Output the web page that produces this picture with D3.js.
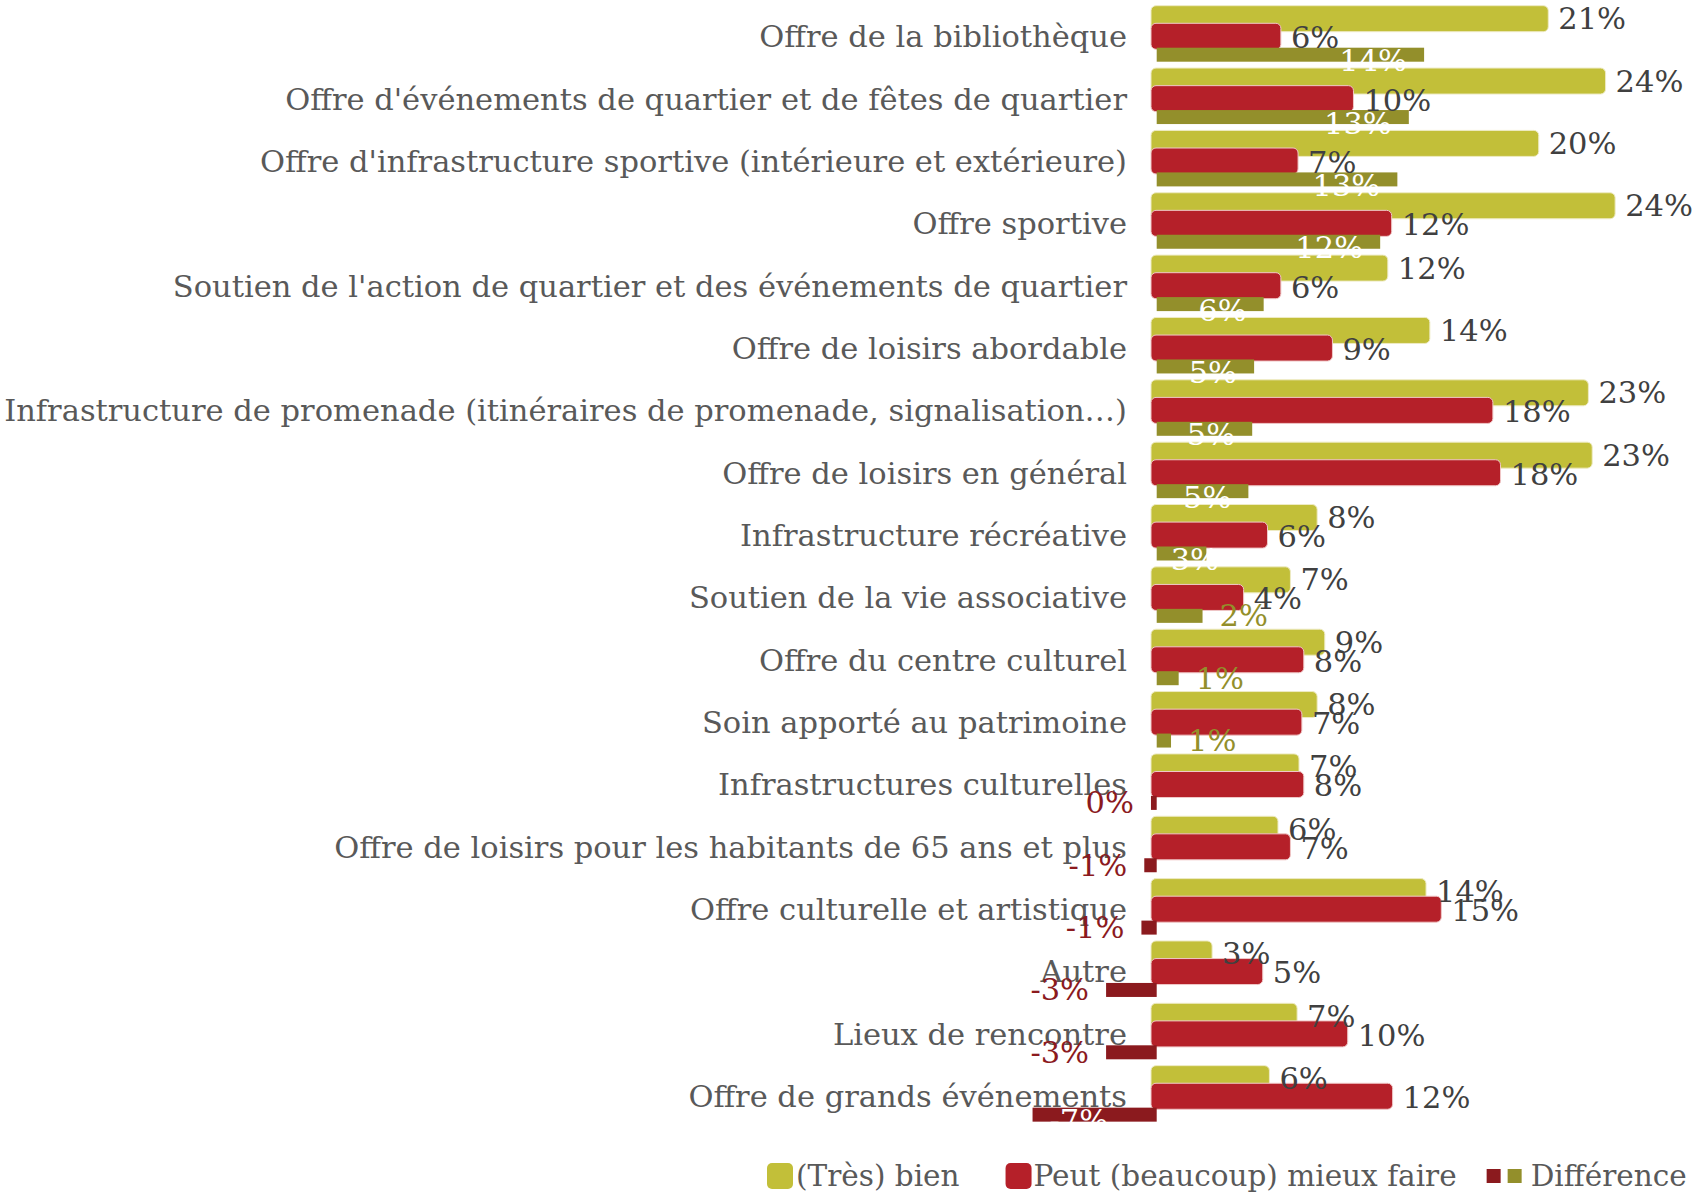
<!DOCTYPE html>
<html>
<head>
<meta charset="utf-8">
<script src="https://cdn.jsdelivr.net/npm/d3@7"></script>
<style>
  body { margin: 0; background: #fff; }
  svg { display: block; font-family: "DejaVu Serif", serif; }
</style>
</head>
<body>
<div id="chart"></div>
<script>
const categories = [
  'Offre de la bibliothèque',
  "Offre d'événements de quartier et de fêtes de quartier",
  "Offre d'infrastructure sportive (intérieure et extérieure)",
  'Offre sportive',
  "Soutien de l'action de quartier et des événements de quartier",
  'Offre de loisirs abordable',
  'Infrastructure de promenade (itinéraires de promenade, signalisation…)',
  'Offre de loisirs en général',
  'Infrastructure récréative',
  'Soutien de la vie associative',
  'Offre du centre culturel',
  'Soin apporté au patrimoine',
  'Infrastructures culturelles',
  'Offre de loisirs pour les habitants de 65 ans et plus',
  'Offre culturelle et artistique',
  'Autre',
  'Lieux de rencontre',
  'Offre de grands événements'
]

// (Très) bien
const bien = [20.8, 23.8, 20.3, 24.3, 12.4, 14.6, 22.9, 23.1, 8.7, 7.3, 9.1, 8.7, 7.75, 6.65, 14.4, 3.2, 7.65, 6.2]
const bienLabels = [21, 24, 20, 24, 12, 14, 23, 23, 8, 7, 9, 8, 7, 6, 14, 3, 7, 6]
// Peut (beaucoup) mieux faire
const mieux = [6.8, 10.6, 7.7, 12.6, 6.8, 9.5, 17.9, 18.3, 6.1, 4.85, 8.0, 7.9, 8.0, 7.3, 15.2, 5.85, 10.3, 12.65]
const mieuxLabels = [6, 10, 7, 12, 6, 9, 18, 18, 6, 4, 8, 7, 8, 7, 15, 5, 10, 12]
// Différence
const diff = [14.0, 13.2, 12.6, 11.7, 5.6, 5.1, 5.0, 4.8, 2.6, 2.4, 1.15, 0.75, -0.3, -0.65, -0.8, -2.65, -2.65, -6.5]
const diffLabels = [14, 13, 13, 12, 6, 5, 5, 5, 3, 2, 1, 1, 0, -1, -1, -3, -3, -7]

const seriesNames = ['(Très) bien', 'Peut (beaucoup) mieux faire', 'Différence']

const width = 1703
const height = 1196
const fontSize = 30.5

const cYellow = '#c2bf39'
const cRed = '#b52029'
const cDiffPos = '#938f2b'
const cDiffNeg = '#8b1a1e'

const svg = d3.select('#chart')
  .append('svg')
  .attr('width', width)
  .attr('height', height)

const x = d3.scaleLinear().domain([0, 25]).range([1151, 1151 + 25 * 19.1])
// the difference series sits on its own axis, slightly shifted
const xd = d3.scaleLinear().domain([0, 25]).range([1156.7, 1156.7 + 25 * 19.1])

const y = d3.scaleBand()
  .domain(categories)
  .range([5.7, 5.7 + categories.length * 62.35])

const rows = categories.map((c, i) => ({
  name: c, bien: bien[i], mieux: mieux[i], diff: diff[i],
  bl: bienLabels[i], ml: mieuxLabels[i], dl: diffLabels[i]
}))

// category labels
svg.append('g')
  .selectAll('text')
  .data(rows)
  .join('text')
  .attr('x', 1127)
  .attr('y', d => y(d.name) + 31)
  .attr('text-anchor', 'end')
  .attr('dominant-baseline', 'central')
  .attr('fill', '#595959')
  .attr('font-size', fontSize)
  .text(d => d.name)

// bars
svg.append('g')
  .selectAll('rect')
  .data(rows)
  .join('rect')
  .attr('x', x(0))
  .attr('y', d => y(d.name))
  .attr('width', d => x(d.bien) - x(0))
  .attr('height', 26)
  .attr('rx', 5)
  .attr('fill', cYellow)
  .attr('stroke', '#eeebc4')
  .attr('stroke-width', 1)

svg.append('g')
  .selectAll('rect')
  .data(rows)
  .join('rect')
  .attr('x', x(0))
  .attr('y', d => y(d.name) + 17.6)
  .attr('width', d => x(d.mieux) - x(0))
  .attr('height', 26)
  .attr('rx', 5)
  .attr('fill', cRed)
  .attr('stroke', '#f0c8c8')
  .attr('stroke-width', 1)

svg.append('g')
  .selectAll('rect')
  .data(rows)
  .join('rect')
  .attr('x', d => Math.min(xd(0), xd(d.diff)))
  .attr('y', d => y(d.name) + 42)
  .attr('width', d => Math.abs(xd(d.diff) - xd(0)))
  .attr('height', 14)
  .attr('fill', d => d.diff >= 0 ? cDiffPos : cDiffNeg)

// difference labels: inside in white for long bars, outside otherwise
const inside = d => d.diff >= 2.5 || d.diff <= -5
const diffText = svg.append('g')
  .selectAll('text')
  .data(rows)
  .join('text')
  .attr('font-size', fontSize)
  .attr('dominant-baseline', 'central')
  .attr('fill', d => inside(d) ? '#fff' : (d.diff >= 0 ? cDiffPos : cDiffNeg))
  .attr('y', d => y(d.name) + 49 + (inside(d) ? 6 : 0))
  .text(d => d.dl + '%')

diffText.each(function(d) {
  const t = d3.select(this)
  const w = this.getComputedTextLength()
  if (inside(d)) {
    if (d.diff >= 0) {
      t.attr('x', Math.max(xd(d.diff) - 17 - w, xd(0) + 14))
    } else {
      t.attr('x', xd(d.diff) + 17)
    }
  } else if (d.diff >= 0) {
    t.attr('x', xd(d.diff) + 17)
  } else {
    t.attr('x', xd(d.diff) - 17 - w)
  }
})

// value labels
svg.append('g')
  .selectAll('text')
  .data(rows)
  .join('text')
  .attr('x', d => x(d.bien) + 10)
  .attr('y', d => y(d.name) + 13)
  .attr('dominant-baseline', 'central')
  .attr('font-size', fontSize)
  .attr('fill', '#404040')
  .text(d => d.bl + '%')

svg.append('g')
  .selectAll('text')
  .data(rows)
  .join('text')
  .attr('x', d => x(d.mieux) + 10)
  .attr('y', d => y(d.name) + 32)
  .attr('dominant-baseline', 'central')
  .attr('font-size', fontSize)
  .attr('fill', '#404040')
  .text(d => d.ml + '%')

// legend
const legendSize = 29.5
const legend = svg.append('g').attr('transform', 'translate(0,1176)')
let lx = 767

legend.append('rect')
  .attr('x', lx).attr('y', -13).attr('width', 26).attr('height', 26)
  .attr('rx', 5).attr('fill', cYellow)
lx += 29
let t1 = legend.append('text')
  .attr('x', lx).attr('dominant-baseline', 'central')
  .attr('font-size', legendSize).attr('fill', '#595959')
  .text(seriesNames[0])
lx += t1.node().getComputedTextLength() + 46

legend.append('rect')
  .attr('x', lx).attr('y', -13).attr('width', 26).attr('height', 26)
  .attr('rx', 5).attr('fill', cRed)
lx += 28
let t2 = legend.append('text')
  .attr('x', lx).attr('dominant-baseline', 'central')
  .attr('font-size', legendSize).attr('fill', '#595959')
  .text(seriesNames[1])
lx += t2.node().getComputedTextLength() + 30

legend.append('rect')
  .attr('x', lx).attr('y', -7).attr('width', 14).attr('height', 14)
  .attr('fill', cDiffNeg)
lx += 21
legend.append('rect')
  .attr('x', lx).attr('y', -7).attr('width', 14).attr('height', 14)
  .attr('fill', cDiffPos)
lx += 23
legend.append('text')
  .attr('x', lx).attr('dominant-baseline', 'central')
  .attr('font-size', legendSize).attr('fill', '#595959')
  .text(seriesNames[2])
</script>
</body>
</html>
